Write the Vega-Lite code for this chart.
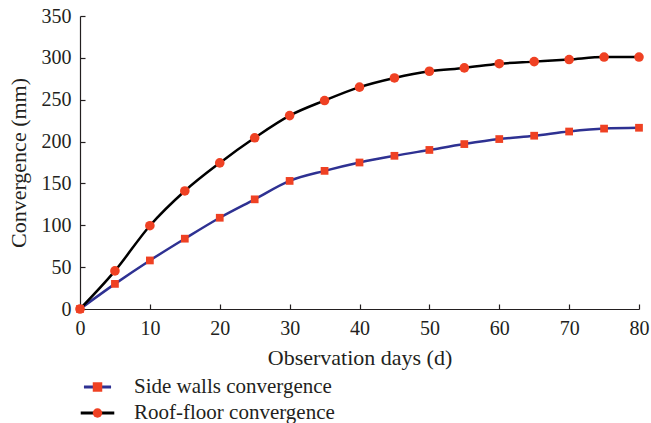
{
  "$schema": "https://vega.github.io/schema/vega-lite/v6.json",
  "width": 559,
  "height": 293,
  "autosize": {"type": "none"},
  "padding": {"left": 80, "top": 16, "right": 12, "bottom": 114},
  "background": "white",
  "config": {
    "view": {"stroke": null},
    "font": "Liberation Serif",
    "axis": {
      "grid": false,
      "labelFlush": false,
      "domainColor": "#231f20",
      "domainWidth": 1.2,
      "tickColor": "#231f20",
      "tickWidth": 1.2,
      "tickSize": -5,
      "labelFont": "Liberation Serif",
      "labelFontSize": 20,
      "labelColor": "#231f20",
      "titleFont": "Liberation Serif",
      "titleFontSize": 22,
      "titleFontWeight": "normal",
      "titleColor": "#231f20"
    },
    "legend": {
      "labelFont": "Liberation Serif",
      "labelFontSize": 21,
      "labelColor": "#231f20",
      "labelLimit": 0
    }
  },
  "data": {
    "values": [
      {"day": 0, "value": 0, "series": "Side walls convergence"},
      {"day": 5, "value": 30, "series": "Side walls convergence"},
      {"day": 10, "value": 58, "series": "Side walls convergence"},
      {"day": 15, "value": 84, "series": "Side walls convergence"},
      {"day": 20, "value": 109, "series": "Side walls convergence"},
      {"day": 25, "value": 131, "series": "Side walls convergence"},
      {"day": 30, "value": 153, "series": "Side walls convergence"},
      {"day": 35, "value": 165, "series": "Side walls convergence"},
      {"day": 40, "value": 175, "series": "Side walls convergence"},
      {"day": 45, "value": 183, "series": "Side walls convergence"},
      {"day": 50, "value": 190, "series": "Side walls convergence"},
      {"day": 55, "value": 197, "series": "Side walls convergence"},
      {"day": 60, "value": 203, "series": "Side walls convergence"},
      {"day": 65, "value": 207, "series": "Side walls convergence"},
      {"day": 70, "value": 212, "series": "Side walls convergence"},
      {"day": 75, "value": 215.5, "series": "Side walls convergence"},
      {"day": 80, "value": 216.5, "series": "Side walls convergence"},
      {"day": 0, "value": 0, "series": "Roof-floor convergence"},
      {"day": 5, "value": 45.5, "series": "Roof-floor convergence"},
      {"day": 10, "value": 99.5, "series": "Roof-floor convergence"},
      {"day": 15, "value": 141, "series": "Roof-floor convergence"},
      {"day": 20, "value": 174.5, "series": "Roof-floor convergence"},
      {"day": 25, "value": 204.5, "series": "Roof-floor convergence"},
      {"day": 30, "value": 231, "series": "Roof-floor convergence"},
      {"day": 35, "value": 249, "series": "Roof-floor convergence"},
      {"day": 40, "value": 265, "series": "Roof-floor convergence"},
      {"day": 45, "value": 276, "series": "Roof-floor convergence"},
      {"day": 50, "value": 284, "series": "Roof-floor convergence"},
      {"day": 55, "value": 288, "series": "Roof-floor convergence"},
      {"day": 60, "value": 293, "series": "Roof-floor convergence"},
      {"day": 65, "value": 295.5, "series": "Roof-floor convergence"},
      {"day": 70, "value": 298, "series": "Roof-floor convergence"},
      {"day": 75, "value": 301, "series": "Roof-floor convergence"},
      {"day": 80, "value": 301, "series": "Roof-floor convergence"}
    ]
  },
  "encoding": {
    "x": {
      "field": "day",
      "type": "quantitative",
      "scale": {"domain": [0, 80], "nice": false},
      "axis": {
        "title": "Observation days (d)",
        "values": [0, 10, 20, 30, 40, 50, 60, 70, 80],
        "labelPadding": 14,
        "titlePadding": 9
      }
    },
    "y": {
      "field": "value",
      "type": "quantitative",
      "scale": {"domain": [0, 350], "nice": false},
      "axis": {
        "title": "Convergence (mm)",
        "values": [0, 50, 100, 150, 200, 250, 300, 350],
        "labelPadding": 14,
        "titlePadding": 11
      }
    }
  },
  "layer": [
    {
      "mark": {"type": "line", "interpolate": "monotone", "strokeWidth": 2.5},
      "encoding": {
        "color": {
          "field": "series",
          "type": "nominal",
          "scale": {
            "domain": ["Side walls convergence", "Roof-floor convergence"],
            "range": ["#2e3192", "#000000"]
          },
          "legend": {
            "title": null,
            "orient": "none",
            "legendX": 7,
            "legendY": 360.5,
            "padding": 0,
            "symbolType": "M-3.5,0H3.5",
            "symbolSize": 100,
            "symbolStrokeWidth": 3,
            "labelOffset": 26,
            "rowPadding": 4,
            "encode": {"symbols": {"update": {"size": {"value": 100}, "strokeWidth": {"value": 3}}}}
          }
        }
      }
    },
    {
      "mark": {"type": "point", "filled": true, "opacity": 1, "color": "#ef4123"},
      "encoding": {
        "shape": {
          "field": "series",
          "type": "nominal",
          "sort": "descending",
          "scale": {"range": ["square", "circle"]},
          "legend": {
            "title": null,
            "orient": "none",
            "legendX": 7,
            "legendY": 360.5,
            "padding": 0,
            "symbolSize": 90,
            "symbolFillColor": "#ef4123",
            "symbolStrokeWidth": 0,
            "labelExpr": "''",
            "labelOffset": 26,
            "rowPadding": 4,
            "encode": {"symbols": {"update": {"size": {"value": 90}}}}
          }
        },
        "size": {
          "field": "series",
          "type": "nominal",
          "scale": {
            "domain": ["Side walls convergence", "Roof-floor convergence"],
            "range": [60, 92]
          },
          "legend": null
        }
      }
    }
  ]
}
